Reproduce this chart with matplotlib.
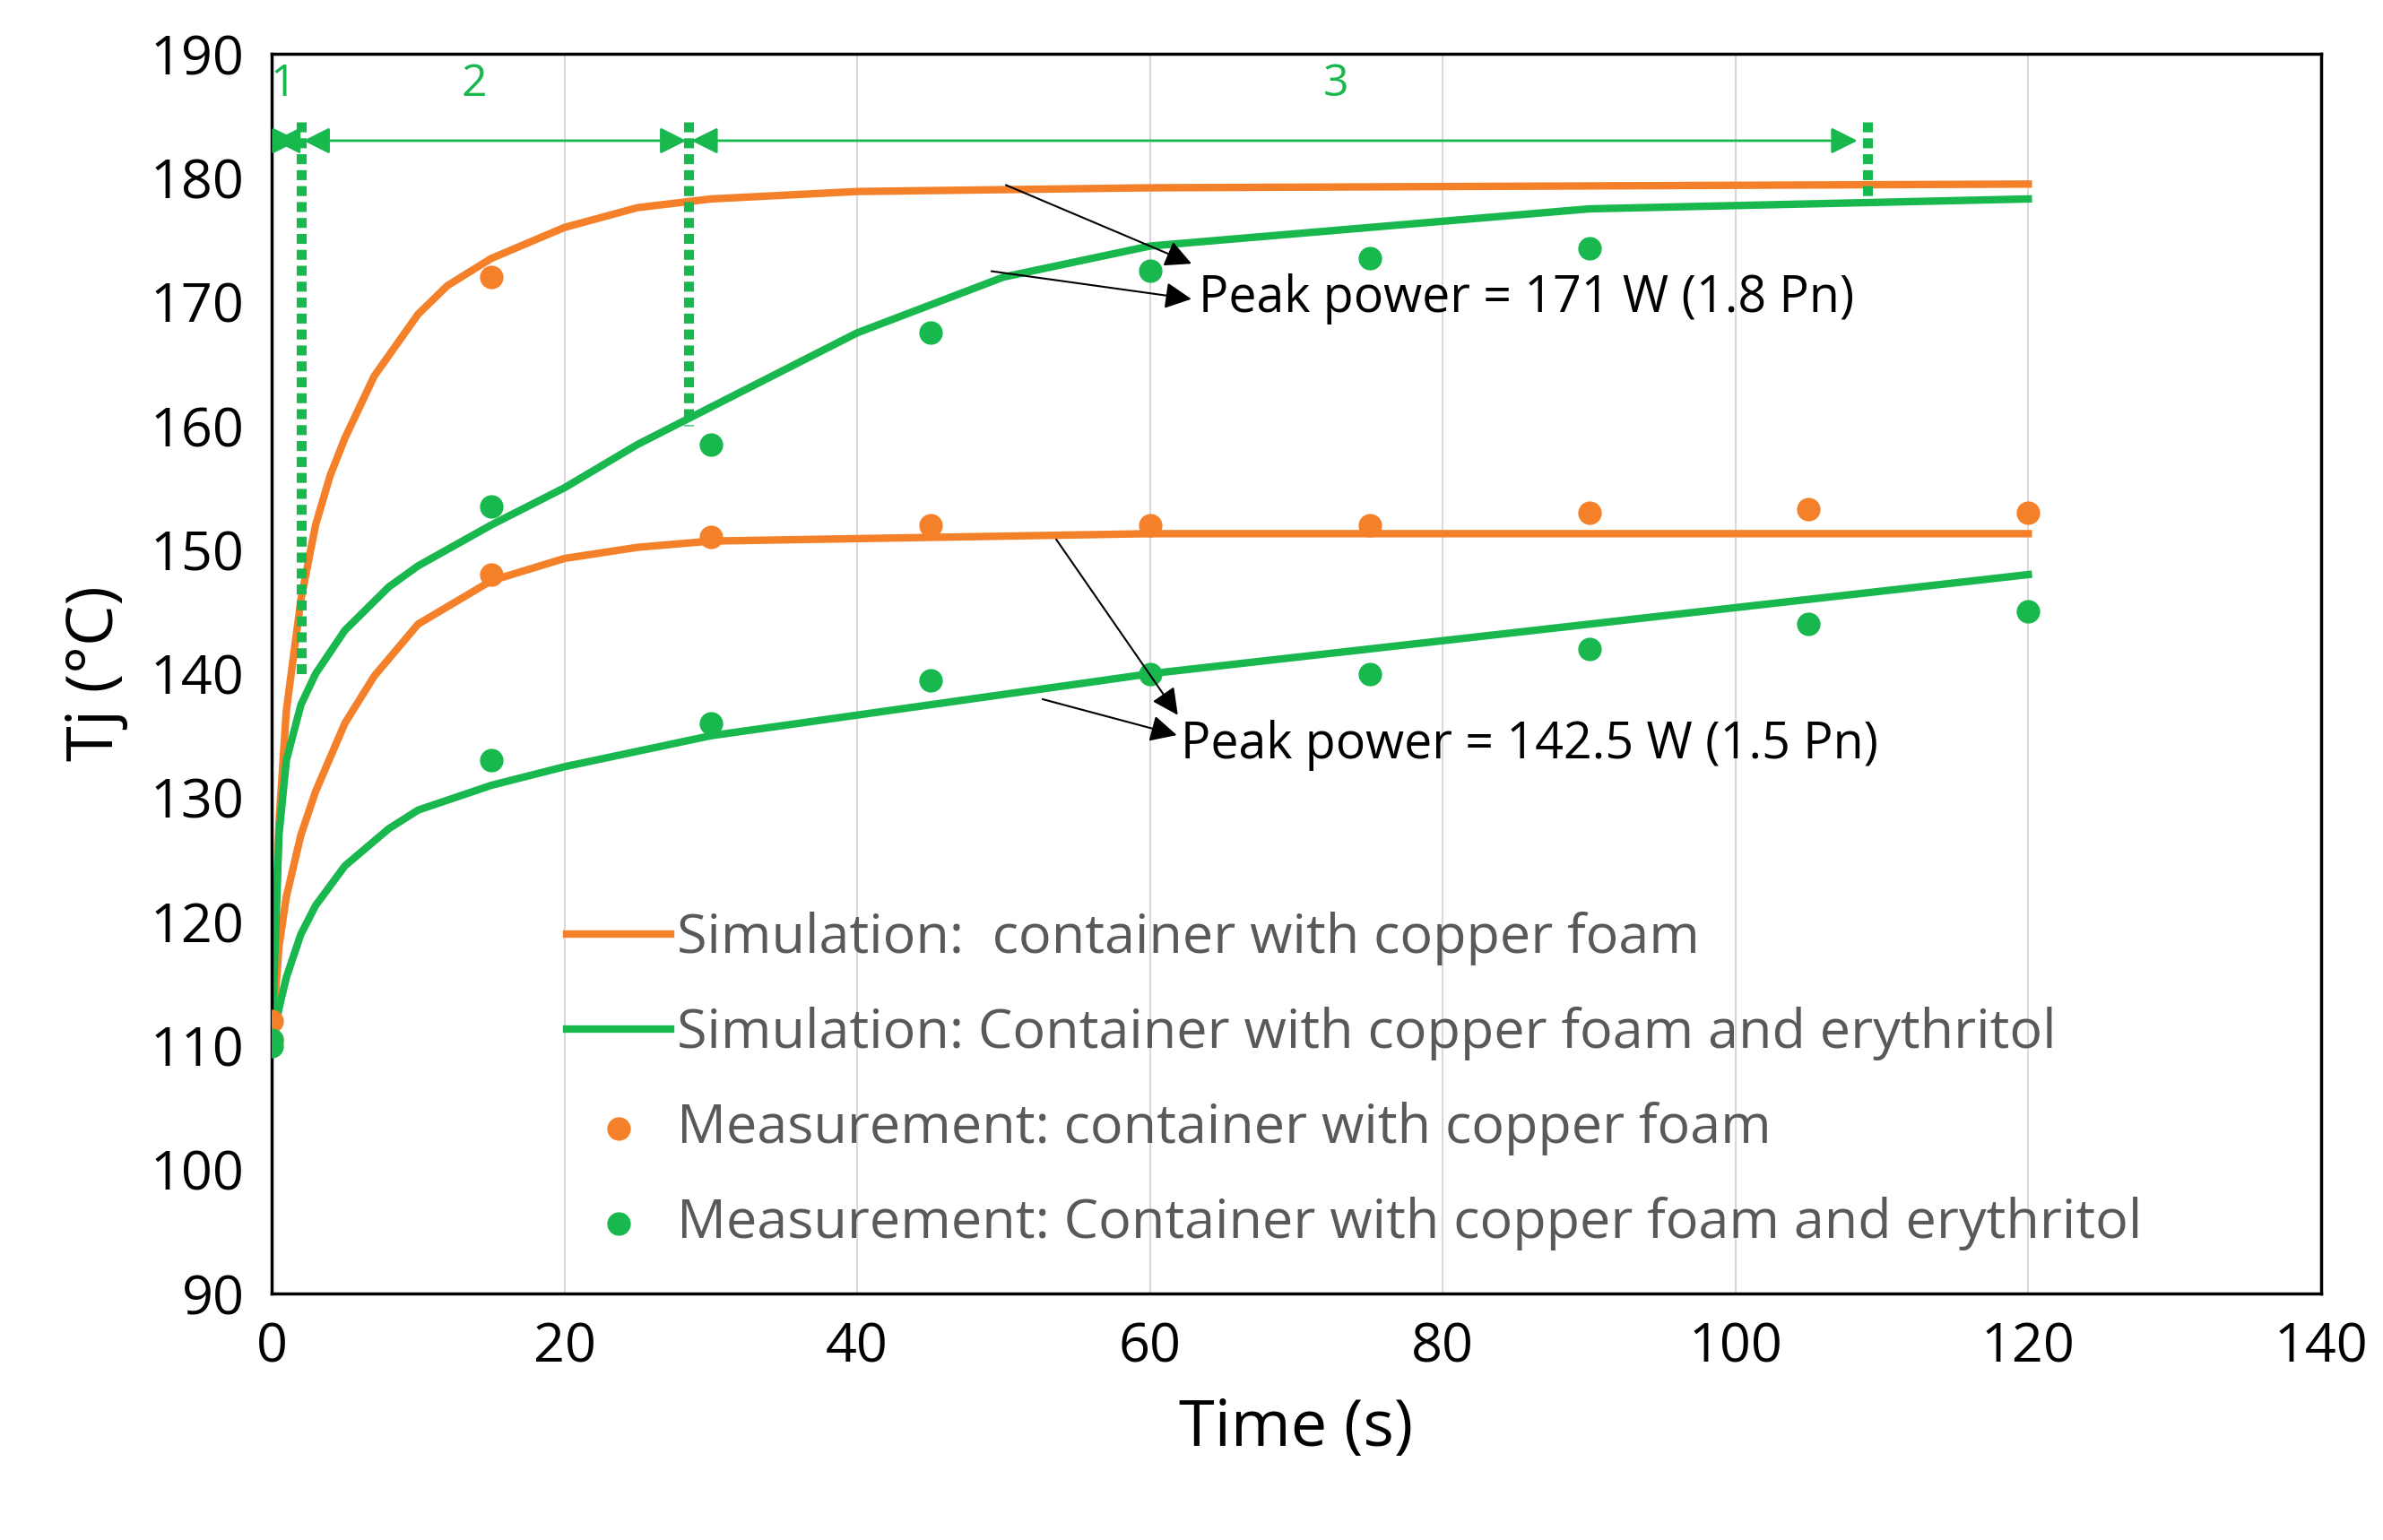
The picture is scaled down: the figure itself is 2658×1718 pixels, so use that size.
import matplotlib.pyplot as plt

plt.rcParams['font.family'] = ['Open Sans', 'DejaVu Sans']

ORANGE = '#f4812a'
GREEN = '#19b84f'
GRAY = '#595959'

# measurement times
t_meas = [0, 15, 30, 45, 60, 75, 90, 105, 120]
meas_cu_15 = [112, 148, 151, 152, 152, 152, 153, 153.3, 153]
meas_ery_15 = [110.5, 133, 136, 139.5, 140, 140, 142, 144, 145]
t_meas_18_cu = [0, 15]
meas_cu_18 = [110.5, 172]
t_meas_18_ery = [0, 15, 30, 45, 60, 75, 90]
meas_ery_18 = [110, 153.5, 158.5, 167.5, 172.5, 173.5, 174.3]

# simulation curves
t_sim_cu18 = [0, 0.5, 1, 2, 3, 4, 5, 7, 10, 12, 15, 20, 25, 30, 40, 60, 120]
sim_cu18 = [110, 128, 137, 146, 152, 156, 159, 164, 169, 171.3, 173.5, 176, 177.6, 178.3, 178.9, 179.2, 179.5]
t_sim_ery18 = [0, 0.5, 1, 2, 3, 5, 8, 10, 15, 20, 25, 30, 40, 50, 60, 90, 120]
sim_ery18 = [110, 127, 133, 137.5, 140, 143.5, 147, 148.7, 152, 155, 158.5, 161.5, 167.5, 172, 174.5, 177.5, 178.3]
t_sim_cu15 = [0, 0.5, 1, 2, 3, 5, 7, 10, 15, 20, 25, 30, 45, 60, 120]
sim_cu15 = [110, 118, 122, 127, 130.5, 136, 139.8, 144, 147.5, 149.3, 150.2, 150.7, 151, 151.3, 151.3]
t_sim_ery15 = [0, 0.5, 1, 2, 3, 5, 8, 10, 15, 20, 30, 45, 60, 90, 120]
sim_ery15 = [110, 113, 115.5, 119, 121.3, 124.5, 127.5, 129, 131, 132.5, 135, 137.5, 140, 144, 148]

fig = plt.figure(figsize=(26.58, 17.18), dpi=100)
ax = fig.add_axes([0.114, 0.16, 0.86, 0.805])

l1, = ax.plot(t_sim_cu18, sim_cu18, color=ORANGE, lw=6)
ax.plot(t_sim_cu15, sim_cu15, color=ORANGE, lw=6)
l2, = ax.plot(t_sim_ery18, sim_ery18, color=GREEN, lw=6)
ax.plot(t_sim_ery15, sim_ery15, color=GREEN, lw=6)
m1 = ax.scatter(t_meas, meas_cu_15, color=ORANGE, s=320, zorder=3)
ax.scatter(t_meas_18_cu, meas_cu_18, color=ORANGE, s=320, zorder=3)
m2 = ax.scatter(t_meas, meas_ery_15, color=GREEN, s=320, zorder=3)
ax.scatter(t_meas_18_ery, meas_ery_18, color=GREEN, s=320, zorder=3)

# phase markers
for x, ylow in [(2, 140), (28.5, 160), (109, 178)]:
    ax.plot([x, x], [184.5, ylow], color=GREEN, lw=8, ls=(0, (1, 0.6)))
for x0, x1 in [(0, 2), (2, 28.5), (28.5, 108.5)]:
    ax.annotate('', xy=(x1, 183), xytext=(x0, 183),
                arrowprops=dict(arrowstyle='<|-|>', color=GREEN, lw=2, mutation_scale=45))
for x, s in [(0.8, '1'), (13.8, '2'), (72.7, '3')]:
    ax.text(x, 187.5, s, color=GREEN, fontsize=36, ha='center', va='center')

# peak power annotations
ap = dict(arrowstyle='-|>', color='black', lw=1.5, mutation_scale=45)
ax.annotate('', xy=(63, 173), xytext=(50, 179.5), arrowprops=ap)
ax.annotate('', xy=(63, 170.2), xytext=(49, 172.5), arrowprops=ap)
ax.text(63.3, 170.2, 'Peak power = 171 W (1.8 Pn)', fontsize=40, va='center')
ax.annotate('', xy=(62, 136.5), xytext=(53.5, 151), arrowprops=ap)
ax.annotate('', xy=(62, 135), xytext=(52.5, 138), arrowprops=ap)
ax.text(62.1, 134.2, 'Peak power = 142.5 W (1.5 Pn)', fontsize=40, va='center')

leg = ax.legend([l1, l2, m1, m2],
                ['Simulation:  container with copper foam',
                 'Simulation: Container with copper foam and erythritol',
                 'Measurement: container with copper foam',
                 'Measurement: Container with copper foam and erythritol'],
                loc='lower left', bbox_to_anchor=(0.12, -0.005), frameon=False,
                fontsize=44, labelspacing=0.75, handlelength=1.9, handletextpad=0.1)
for t in leg.get_texts():
    t.set_color(GRAY)

ax.set_xlim(0, 140)
ax.set_ylim(90, 190)
ax.set_xticks(range(0, 141, 20))
ax.set_yticks(range(90, 191, 10))
ax.grid(True, axis='x', color='#d9d9d9', lw=1.5)
ax.tick_params(which='both', length=0, labelsize=44, pad=22)
for sp in ax.spines.values():
    sp.set_linewidth(2.5)
ax.set_xlabel('Time (s)', fontsize=52, labelpad=18)
ax.set_ylabel('Tj (°C)', fontsize=52, labelpad=18)

fig.savefig('out.png', dpi=100)
